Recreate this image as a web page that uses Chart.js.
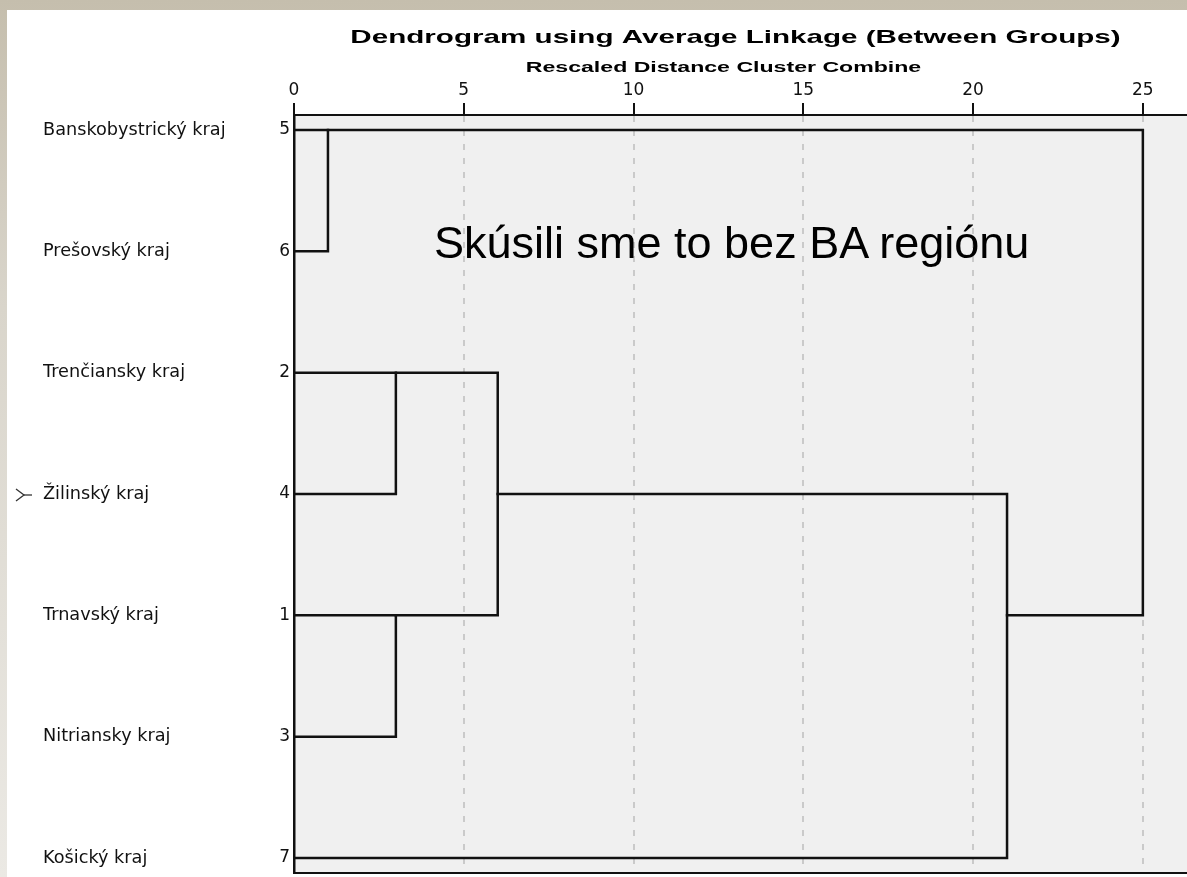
<!DOCTYPE html>
<html>
<head>
<meta charset="utf-8">
<style>
  html, body { margin: 0; padding: 0; }
  body {
    width: 1187px; height: 877px; position: relative; overflow: hidden;
    background: linear-gradient(180deg, #c5bead 0%, #d9d5cb 35%, #ebe9e4 100%);
  }
  #graf { position: absolute; left: 7px; top: 10px; background: #fff; }
  #poznamka {
    position: absolute; left: 434px; top: 220px;
    font-family: "Liberation Sans", Arial, sans-serif; font-size: 45px; line-height: 45px;
    color: #000; white-space: nowrap;
  }
  #znacka { position: absolute; left: 15px; top: 488px; }
</style>
</head>
<body>
<canvas id="graf" width="1180" height="867"></canvas>
<div id="poznamka">Skúsili sme to bez BA regiónu</div>
<svg id="znacka" width="18" height="14">
  <polyline points="1,1 9,7 1,13" fill="none" stroke="#333" stroke-width="1.3"/>
  <line x1="9" y1="7" x2="17" y2="7" stroke="#333" stroke-width="1.3"/>
</svg>
<script src="https://cdn.jsdelivr.net/npm/chart.js"></script>
<script>
    // Poradie prípadov v dendrograme (zhora nadol)
    const regiony = ['Banskobystrický kraj', 'Prešovský kraj', 'Trenčiansky kraj', 'Žilinský kraj',
                     'Trnavský kraj', 'Nitriansky kraj', 'Košický kraj'];
    const cisla = [5, 6, 2, 4, 1, 3, 7];

    // Postup zhlukovania: spoj prípad A s prípadom B na preškálovanej vzdialenosti
    const krokA = [5, 2, 1, 2, 2, 5];
    const krokB = [6, 4, 3, 1, 7, 2];
    const vzdialenost = [1, 3, 3, 6, 21, 25];

    const xTicky = [0, 5, 10, 15, 20, 25];

    const nadpis = 'Dendrogram using Average Linkage (Between Groups)';
    const podnadpis = 'Rescaled Distance Cluster Combine';

    // Zostavenie čiar dendrogramu zo zoznamu krokov
    let zhluky = cisla.map((c, i) => ({ clenovia: [i], x: 0 }));
    function najdi(cislo) {
        const r = cisla.indexOf(cislo);
        return zhluky.find(z => z.clenovia.includes(r));
    }
    function riadok(z) {
        return Math.floor((Math.min(...z.clenovia) + Math.max(...z.clenovia)) / 2);
    }
    const datasety = [];
    for (let k = 0; k < krokA.length; k++) {
        const a = najdi(krokA[k]), b = najdi(krokB[k]);
        const ra = riadok(a), rb = riadok(b), d = vzdialenost[k];
        datasety.push({
            data: [{ x: a.x, y: ra }, { x: d, y: ra }, { x: d, y: rb }, { x: b.x, y: rb }],
            showLine: true,
            borderColor: '#111',
            borderWidth: 2.5,
            borderCapStyle: 'square',
            borderJoinStyle: 'miter',
            pointRadius: 0,
            tension: 0,
            fill: false
        });
        a.clenovia = a.clenovia.concat(b.clenovia);
        a.x = d;
        zhluky = zhluky.filter(z => z !== b);
    }

    const yMin = -0.1236, yMax = 6.1236;

    // pozadie plochy, spodná čiara a nadpisy (roztiahnuté ako v SPSS)
    const pozadie = {
        id: 'pozadie',
        beforeDraw(chart) {
            const { ctx, chartArea: a } = chart;
            ctx.save();
            ctx.fillStyle = '#f0f0f0';
            ctx.fillRect(a.left, a.top, a.right - a.left, a.bottom - a.top);
            ctx.restore();
        },
        afterDraw(chart) {
            const { ctx, chartArea: a } = chart;
            ctx.save();
            ctx.strokeStyle = '#111';
            ctx.lineWidth = 2;
            ctx.beginPath();
            ctx.moveTo(a.left, a.bottom);
            ctx.lineTo(a.right, a.bottom);
            ctx.stroke();
            const cx = (a.left + a.right) / 2;
            ctx.fillStyle = '#000';
            ctx.textAlign = 'center';
            ctx.textBaseline = 'alphabetic';
            ctx.font = 'bold 18.5px "Liberation Sans", Arial';
            ctx.translate(cx - 5, 33);
            ctx.scale(1.6, 1);
            ctx.fillText(nadpis, 0, 0);
            ctx.restore();
            ctx.save();
            ctx.fillStyle = '#000';
            ctx.textAlign = 'center';
            ctx.font = 'bold 14px "Liberation Sans", Arial';
            ctx.translate(cx - 17, 62);
            ctx.scale(1.65, 1);
            ctx.fillText(podnadpis, 0, 0);
            ctx.restore();
        }
    };

    Chart.defaults.font.family = '"DejaVu Sans", sans-serif';
    Chart.defaults.color = '#111';

    const bezOkrajov = s => { s.paddingTop = 0; s.paddingBottom = 0; s.paddingLeft = 0; s.paddingRight = 0; };

    new Chart(document.getElementById('graf'), {
        type: 'scatter',
        data: { datasets: datasety },
        options: {
            responsive: false,
            animation: false,
            layout: { padding: { top: 68.6, left: 36, right: 0, bottom: 4 } },
            plugins: { legend: { display: false }, tooltip: { enabled: false } },
            scales: {
                x: {
                    type: 'linear',
                    position: 'top',
                    min: 0,
                    max: 26.3,
                    afterBuildTicks: s => { s.ticks = xTicky.map(v => ({ value: v })); },
                    afterFit: bezOkrajov,
                    ticks: { font: { size: 17 }, padding: 2, maxRotation: 0 },
                    grid: {
                        color: c => (c.tick && c.tick.value === 0) ? 'rgba(0,0,0,0)' : '#cacaca',
                        lineWidth: 2,
                        drawTicks: true,
                        tickLength: 12,
                        tickColor: '#111',
                        tickWidth: 2,
                        tickBorderDash: []
                    },
                    border: { display: true, color: '#111', width: 2, dash: [6, 8] }
                },
                y: {
                    type: 'linear',
                    position: 'left',
                    weight: 0,
                    reverse: true,
                    min: yMin,
                    max: yMax,
                    afterBuildTicks: s => { s.ticks = cisla.map((c, i) => ({ value: i })); },
                    afterFit: s => { bezOkrajov(s); s.width = 30; },
                    ticks: {
                        autoSkip: false,
                        font: { size: 17 },
                        padding: 4,
                        callback: v => (cisla[v] !== undefined ? String(cisla[v]) : '')
                    },
                    grid: { display: false, drawTicks: false },
                    border: { display: true, color: '#111', width: 2.5 }
                },
                yNazvy: {
                    type: 'linear',
                    position: 'left',
                    weight: 1,
                    reverse: true,
                    min: yMin,
                    max: yMax,
                    afterBuildTicks: s => { s.ticks = regiony.map((r, i) => ({ value: i })); },
                    afterFit: s => { bezOkrajov(s); s.width = 221; },
                    ticks: {
                        autoSkip: false,
                        crossAlign: 'far',
                        font: { size: 17.7 },
                        padding: 0,
                        callback: v => (regiony[v] !== undefined ? regiony[v] : '')
                    },
                    grid: { display: false, drawTicks: false },
                    border: { display: false }
                }
            }
        },
        plugins: [pozadie]
    });
</script>
</body>
</html>
